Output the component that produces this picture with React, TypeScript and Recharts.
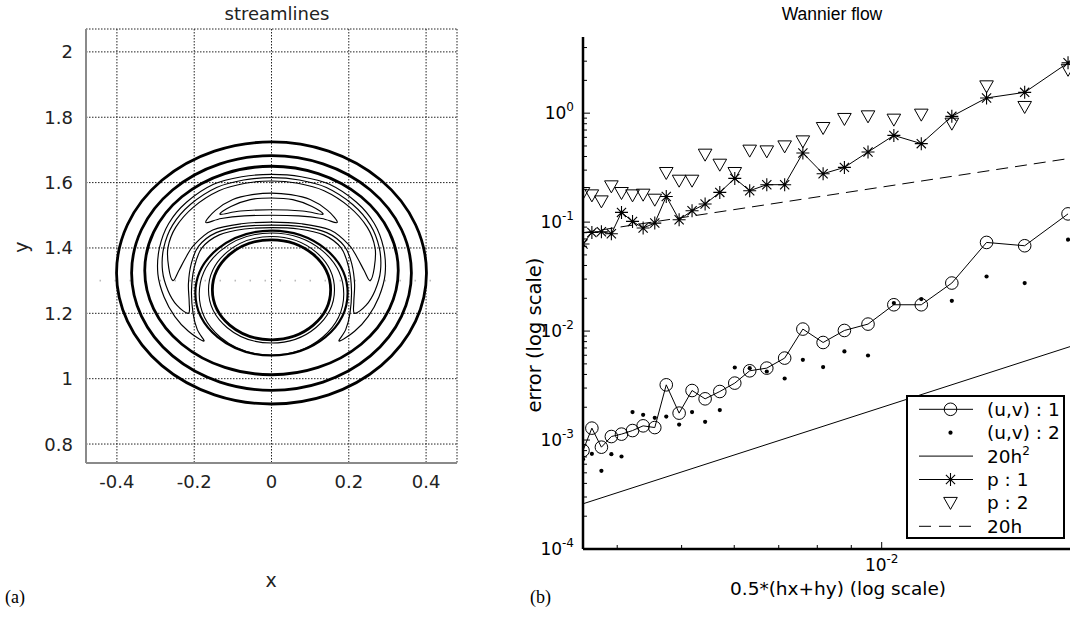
import React from "react";
import { ScatterChart, Scatter, XAxis, YAxis, CartesianGrid, ReferenceLine } from "recharts";

const SANS = "'DejaVu Sans', sans-serif";
const HELV = "'Liberation Sans', Arial, sans-serif";
const SERIF = "'Liberation Serif', 'DejaVu Serif', serif";
const GRAY = "#8a8a8a";

// ---------------- (a) streamlines ----------------
const xTicksA = [-0.4, -0.2, 0, 0.2, 0.4];
const yTicksA = [0.8, 1, 1.2, 1.4, 1.6, 1.8, 2];

// closed streamlines that are (nearly) ellipses, centred on x = 0
const ringCy = [1.3235, 1.3235, 1.331, 1.262, 1.259, 1.272, 1.272];
const ringRx = [0.401, 0.362, 0.328, 0.197, 0.187, 0.163, 0.153];
const ringRy = [0.401, 0.359, 0.319, 0.191, 0.187, 0.163, 0.153];
const ringWidth = [2.8, 2.8, 2.8, 2.2, 1.1, 1.1, 2.8];

// horseshoe shaped eddy contours (x, y)
const horseshoe1 = [
  [-0.175, 1.115], [-0.215, 1.145], [-0.25, 1.19], [-0.278, 1.25], [-0.294, 1.32], [-0.29, 1.4],
  [-0.266, 1.475], [-0.22, 1.54], [-0.15, 1.595], [-0.077, 1.618], [0, 1.625],
  [0.077, 1.618], [0.15, 1.595], [0.22, 1.54], [0.266, 1.475], [0.29, 1.4], [0.294, 1.32],
  [0.278, 1.25], [0.25, 1.19], [0.215, 1.145], [0.175, 1.115],
  [0.192, 1.15], [0.203, 1.2], [0.207, 1.27], [0.2, 1.34], [0.18, 1.4], [0.135, 1.44], [0.07, 1.458], [0, 1.462],
  [-0.07, 1.458], [-0.135, 1.44], [-0.18, 1.4], [-0.2, 1.34], [-0.207, 1.27], [-0.203, 1.2], [-0.192, 1.15],
];
const horseshoe2 = [
  [-0.215, 1.2], [-0.245, 1.225], [-0.268, 1.27], [-0.282, 1.33], [-0.279, 1.4], [-0.256, 1.47],
  [-0.21, 1.533], [-0.142, 1.585], [-0.072, 1.608], [0, 1.615],
  [0.072, 1.608], [0.142, 1.585], [0.21, 1.533], [0.256, 1.47], [0.279, 1.4], [0.282, 1.33],
  [0.268, 1.27], [0.245, 1.225], [0.215, 1.2],
  [0.213, 1.235], [0.215, 1.29], [0.208, 1.35], [0.189, 1.405], [0.143, 1.447], [0.073, 1.466], [0, 1.47],
  [-0.073, 1.466], [-0.143, 1.447], [-0.189, 1.405], [-0.208, 1.35], [-0.215, 1.29], [-0.213, 1.235],
];
const horseshoe3 = [
  [-0.255, 1.3], [-0.266, 1.34], [-0.268, 1.4], [-0.248, 1.463], [-0.202, 1.525], [-0.136, 1.575],
  [-0.068, 1.598], [0, 1.605],
  [0.068, 1.598], [0.136, 1.575], [0.202, 1.525], [0.248, 1.463], [0.268, 1.4], [0.266, 1.34], [0.255, 1.3],
  [0.24, 1.33], [0.222, 1.37], [0.2, 1.41], [0.152, 1.455], [0.078, 1.474], [0, 1.479],
  [-0.078, 1.474], [-0.152, 1.455], [-0.2, 1.41], [-0.222, 1.37], [-0.24, 1.33],
];
const crescentOuter = [
  [-0.17, 1.478], [-0.145, 1.515], [-0.1, 1.548], [-0.05, 1.563], [0, 1.568], [0.05, 1.563],
  [0.1, 1.548], [0.145, 1.515], [0.17, 1.478], [0.13, 1.49], [0.07, 1.498], [0, 1.5], [-0.07, 1.498], [-0.13, 1.49],
];
const crescentInner = [
  [-0.133, 1.503], [-0.105, 1.527], [-0.055, 1.548], [0, 1.553], [0.055, 1.548], [0.105, 1.527],
  [0.133, 1.503], [0.08, 1.513], [0, 1.517], [-0.08, 1.513],
];
const eddyShapes = [horseshoe1, horseshoe2, horseshoe3, crescentOuter, crescentInner];

// ---------------- (b) Wannier flow ----------------
const h = [
  0.003553, 0.003664, 0.003787, 0.00392, 0.00406, 0.004218, 0.004376, 0.004556, 0.004741,
  0.004957, 0.005184, 0.005424, 0.005707, 0.006011, 0.00633, 0.006716, 0.007145, 0.00761,
  0.008163, 0.008788, 0.009537, 0.01043, 0.01147, 0.01275, 0.01438, 0.01641, 0.01907,
];
const uv1 = [
  8.01e-4, 1.286e-3, 8.6e-4, 1.077e-3, 1.133e-3, 1.222e-3, 1.35e-3, 1.302e-3, 3.212e-3,
  1.766e-3, 2.848e-3, 2.389e-3, 2.789e-3, 3.33e-3, 4.32e-3, 4.573e-3, 5.65e-3, 1.043e-2,
  7.857e-3, 1.013e-2, 1.159e-2, 1.744e-2, 1.744e-2, 2.76e-2, 6.51e-2, 6.07e-2, 0.119,
];
const uv2 = [
  6.68e-4, 7.47e-4, 5.22e-4, 7.42e-4, 7.06e-4, 1.804e-3, 1.703e-3, 1.599e-3, 1.643e-3,
  1.388e-3, 1.804e-3, 1.469e-3, 1.882e-3, 4.63e-3, 4.57e-3, 4.256e-3, 3.67e-3, 5.45e-3,
  4.67e-3, 6.5e-3, 5.97e-3, 1.807e-2, 1.967e-2, 1.897e-2, 0.0317, 0.0276, 0.069,
];
const p1 = [
  0.0629, 0.0804, 0.0816, 0.0782, 0.1228, 0.1015, 0.0883, 0.098, 0.172,
  0.1052, 0.1272, 0.1466, 0.1874, 0.252, 0.1942, 0.2206, 0.2206, 0.431,
  0.278, 0.318, 0.44, 0.625, 0.525, 0.935, 1.379, 1.552, 2.9,
];
const p2 = [
  0.185, 0.176, 0.155, 0.213, 0.185, 0.176, 0.1786, 0.1606, 0.2824,
  0.24, 0.24, 0.416, 0.3365, 0.2824, 0.453, 0.446, 0.4956, 0.551,
  0.731, 0.885, 0.935, 0.872, 0.969, 0.801, 1.763, 1.14, 2.5,
];
// reference slopes, value at both ends of the h range
const refH = [0.003553, 0.0192];
const ref20h2 = [2.6e-4, 7.2e-3];
const ref20h = [0.08, 0.385];

const X_DOMAIN: [number, number] = [0.003553, 0.0192];
const Y_DOMAIN: [number, number] = [1e-4, 5];
const yDecades = [1e-4, 1e-3, 1e-2, 1e-1, 1];
const yExpLabels = ["-4", "-3", "-2", "-1", "0"];
const yMinor = yDecades.flatMap((d) => [2, 3, 4, 5, 6, 7, 8, 9].map((m) => m * d)).filter((v) => v < 4.9);
const yTicksB = [...yDecades, ...yMinor].sort((a, b) => a - b);
const xMajor = [0.01];
const xExpLabels = ["-2"];
const xTicksB = [0.004, 0.005, 0.006, 0.007, 0.008, 0.009, 0.01];

const legendNames = ["(u,v) : 1", "(u,v) : 2", "20h", "p : 1", "p : 2", "20h"];

const toPts = (xs: number[], ys: number[]) => xs.map((x, i) => ({ x, y: ys[i] }));
const isDecade = (v: number) => Math.abs(Math.log10(v) - Math.round(Math.log10(v))) < 1e-6;

// ---------- shapes ----------
const Empty = () => <g />;

const smoothClosed = (pts: { x: number; y: number }[]) => {
  const n = pts.length;
  let d = `M${pts[0].x},${pts[0].y}`;
  for (let i = 0; i < n; i++) {
    const a = pts[(i - 1 + n) % n], b = pts[i], c = pts[(i + 1) % n], e = pts[(i + 2) % n];
    d += `C${b.x + (c.x - a.x) / 6},${b.y + (c.y - a.y) / 6} ${c.x - (e.x - b.x) / 6},${c.y - (e.y - b.y) / 6} ${c.x},${c.y}`;
  }
  return d + "Z";
};

const ClosedCurve = (props: any) => (
  <path d={smoothClosed(props.points)} fill="none" stroke="#000" strokeWidth={props.w} />
);

const Ring = (props: any) => {
  const p = props.points;
  return (
    <ellipse
      cx={(p[0].x + p[1].x) / 2}
      cy={p[0].y}
      rx={(p[1].x - p[0].x) / 2}
      ry={Math.abs(p[2].y - p[3].y) / 2}
      fill="none"
      stroke="#000"
      strokeWidth={props.w}
    />
  );
};

const OpenCircle = ({ cx, cy }: any) => <circle cx={cx} cy={cy} r={6.3} fill="none" stroke="#000" strokeWidth={1} />;
const SmallDot = ({ cx, cy }: any) => <circle cx={cx} cy={cy} r={2.1} fill="#000" />;
const Asterisk = ({ cx, cy }: any) => {
  const r = 6.5, d = 4.6;
  return (
    <path
      d={`M${cx - r},${cy}H${cx + r}M${cx},${cy - r}V${cy + r}M${cx - d},${cy - d}L${cx + d},${cy + d}M${cx - d},${cy + d}L${cx + d},${cy - d}`}
      stroke="#000"
      strokeWidth={1.1}
      fill="none"
    />
  );
};
const TriDown = ({ cx, cy }: any) => (
  <path d={`M${cx - 6.8},${cy - 5.5}L${cx + 6.8},${cy - 5.5}L${cx},${cy + 6.5}Z`} fill="none" stroke="#000" strokeWidth={1} />
);

// ---------- ticks ----------
const TickXA = ({ x, y, payload }: any) => (
  <text x={x} y={y + 18} textAnchor="middle" dominantBaseline="central" fontFamily={SANS} fontSize={18} fill="#222">
    {String(payload.value)}
  </text>
);
const TickYA = ({ x, y, payload }: any) => (
  <text x={x - 13} y={y} textAnchor="end" dominantBaseline="central" fontFamily={SANS} fontSize={18} fill="#222">
    {String(payload.value)}
  </text>
);

const TickYLeft = ({ x, y, payload }: any) => {
  const v = payload.value;
  const major = isDecade(v);
  const idx = yDecades.findIndex((d) => Math.abs(d - v) / d < 1e-6);
  return (
    <g>
      <line x1={x} x2={x + (major ? 7 : 4)} y1={y} y2={y} stroke="#000" strokeWidth={1} />
      {major && (
        <text x={x - 9} y={y + 6} textAnchor="end" fontFamily={SANS} fontSize={17} fill="#000">
          <tspan>10</tspan>
          <tspan dy={-8} fontSize={12}>{yExpLabels[idx]}</tspan>
        </text>
      )}
    </g>
  );
};
const TickYRight = ({ x, y, payload }: any) => {
  const major = isDecade(payload.value);
  return <line x1={x} x2={x - (major ? 7 : 4)} y1={y} y2={y} stroke="#000" strokeWidth={1} />;
};
const TickXBottom = ({ x, y, payload }: any) => {
  const v = payload.value;
  const idx = xMajor.findIndex((d) => Math.abs(d - v) / d < 1e-6);
  const major = idx >= 0;
  return (
    <g>
      <line x1={x} x2={x} y1={y} y2={y - (major ? 7 : 4)} stroke="#000" strokeWidth={1} />
      {major && (
        <text x={x} y={y + 22} textAnchor="middle" fontFamily={SANS} fontSize={17} fill="#000">
          <tspan>10</tspan>
          <tspan dy={-8} fontSize={12}>{xExpLabels[idx]}</tspan>
        </text>
      )}
    </g>
  );
};
const TickXTop = ({ x, y, payload }: any) => {
  const major = isDecade(payload.value);
  return <line x1={x} x2={x} y1={y} y2={y + (major ? 7 : 4)} stroke="#000" strokeWidth={1} />;
};

function Streamlines() {
  const frame = { stroke: GRAY, strokeWidth: 2 };
  return (
    <ScatterChart width={480} height={600} margin={{ top: 29, right: 23, bottom: 107, left: 26 }}>
      <CartesianGrid stroke="#222" strokeWidth={1} strokeDasharray="1.5 1.5" />
      <XAxis dataKey="x" type="number" domain={[-0.48, 0.48]} ticks={xTicksA} allowDataOverflow height={30}
        tickSize={0} tickMargin={0} tickLine={false} interval={0} tick={<TickXA />} axisLine={frame} />
      <XAxis xAxisId="top" orientation="top" dataKey="x" type="number" domain={[-0.48, 0.48]} allowDataOverflow
        height={0} tick={false} tickLine={false} axisLine={frame} />
      <YAxis dataKey="y" type="number" domain={[0.742, 2.07]} ticks={yTicksA} allowDataOverflow width={60}
        tickSize={0} tickMargin={0} tickLine={false} interval={0} tick={<TickYA />} axisLine={frame} />
      <YAxis yAxisId="right" orientation="right" dataKey="y" type="number" domain={[0.742, 2.07]} allowDataOverflow
        width={0} tick={false} tickLine={false} axisLine={frame} />
      <ReferenceLine segment={[{ x: -0.445, y: 1.3 }, { x: 0.445, y: 1.3 }]} stroke="#bbb" strokeWidth={1.6}
        strokeDasharray="1.5 13.5" />
      {ringCy.map((cy, i) => (
        <Scatter
          key={`ring${i}`}
          data={[
            { x: -ringRx[i], y: cy },
            { x: ringRx[i], y: cy },
            { x: 0, y: cy - ringRy[i] },
            { x: 0, y: cy + ringRy[i] },
          ]}
          shape={<Empty />}
          line={<Ring w={ringWidth[i]} />}
          isAnimationActive={false}
        />
      ))}
      {eddyShapes.map((s, i) => (
        <Scatter
          key={`eddy${i}`}
          data={s.map(([x, y]) => ({ x, y }))}
          shape={<Empty />}
          line={<ClosedCurve w={1.15} />}
          isAnimationActive={false}
        />
      ))}
      <Scatter xAxisId="top" yAxisId="right" data={[{ x: 0, y: 1.3 }]} shape={<Empty />} isAnimationActive={false} />
    </ScatterChart>
  );
}

function Wannier() {
  const thick = { stroke: "#000", strokeWidth: 2.5 };
  const thin = { stroke: "#000", strokeWidth: 1.2 };
  return (
    <ScatterChart width={572} height={618} margin={{ top: 37, right: 2, bottom: 39, left: 0 }}>
      <XAxis dataKey="x" type="number" scale="log" domain={X_DOMAIN} ticks={xTicksB} allowDataOverflow height={30}
        tickSize={0} tickMargin={0} tickLine={false} interval={0} tick={<TickXBottom />} axisLine={thick} />
      <XAxis xAxisId="top" orientation="top" dataKey="x" type="number" scale="log" domain={X_DOMAIN} ticks={xTicksB}
        allowDataOverflow height={0} tickSize={0} tickMargin={0} tickLine={false} interval={0} tick={<TickXTop />}
        axisLine={thin} />
      <YAxis dataKey="y" type="number" scale="log" domain={Y_DOMAIN} ticks={yTicksB} allowDataOverflow width={83}
        tickSize={0} tickMargin={0} tickLine={false} interval={0} tick={<TickYLeft />} axisLine={thick} />
      <YAxis yAxisId="right" orientation="right" dataKey="y" type="number" scale="log" domain={Y_DOMAIN} ticks={yTicksB}
        allowDataOverflow width={0} tickSize={0} tickMargin={0} tickLine={false} interval={0} tick={<TickYRight />}
        axisLine={thin} />
      <Scatter data={toPts(refH, ref20h2)} shape={<Empty />} line={{ stroke: "#000", strokeWidth: 1 }}
        lineJointType="linear" isAnimationActive={false} />
      <Scatter data={toPts(refH, ref20h)} shape={<Empty />}
        line={{ stroke: "#000", strokeWidth: 1, strokeDasharray: "12 7" }} lineJointType="linear" isAnimationActive={false} />
      <Scatter data={toPts(h, uv1)} shape={<OpenCircle />} line={{ stroke: "#000", strokeWidth: 1 }}
        lineJointType="linear" isAnimationActive={false} />
      <Scatter data={toPts(h, uv2)} shape={<SmallDot />} isAnimationActive={false} />
      <Scatter data={toPts(h, p1)} shape={<Asterisk />} line={{ stroke: "#000", strokeWidth: 1 }}
        lineJointType="linear" isAnimationActive={false} />
      <Scatter data={toPts(h, p2)} shape={<TriDown />} isAnimationActive={false} />
      <Scatter xAxisId="top" yAxisId="right" data={toPts(refH, ref20h)} shape={<Empty />} isAnimationActive={false} />
    </ScatterChart>
  );
}

function Legend() {
  const top = 409.3;
  const step = 23.4;
  return (
    <g>
      <rect x={907} y={396} width={157} height={142} fill="#fff" stroke="#000" strokeWidth={2} />
      {legendNames.map((name, i) => {
        const y = top + i * step;
        const lined = i === 0 || i === 2 || i === 3;
        return (
          <g key={i}>
            {lined && <line x1={919} x2={973} y1={y} y2={y} stroke="#000" strokeWidth={1} />}
            {i === 5 && <line x1={919} x2={973} y1={y} y2={y} stroke="#000" strokeWidth={1} strokeDasharray="12 8" />}
            {i === 0 && <OpenCircle cx={950.5} cy={y} />}
            {i === 1 && <SmallDot cx={950.5} cy={y} />}
            {i === 3 && <Asterisk cx={950.5} cy={y} />}
            {i === 4 && <TriDown cx={950.5} cy={y} />}
            <text x={987} y={y + 6.5} fontFamily={SANS} fontSize={18.5} fill="#000">
              {name}
              {i === 2 && <tspan dy={-8} fontSize={12}>2</tspan>}
            </text>
          </g>
        );
      })}
    </g>
  );
}

export default function App() {
  return (
    <div style={{ position: "absolute", left: 0, top: 0, width: 1072, height: 618, background: "#fff", overflow: "hidden" }}>
      <div style={{ position: "absolute", left: 0, top: 0 }}>
        <Streamlines />
      </div>
      <div style={{ position: "absolute", left: 500, top: 0 }}>
        <Wannier />
      </div>
      <svg width={1072} height={618} style={{ position: "absolute", left: 0, top: 0, pointerEvents: "none" }}>
        <text x={277} y={20} textAnchor="middle" fontFamily={SANS} fontSize={18} fill="#222">streamlines</text>
        <text x={271} y={587} textAnchor="middle" fontFamily={SANS} fontSize={19} fill="#222">x</text>
        <text x={0} y={0} transform="translate(28,247) rotate(-90)" textAnchor="middle" fontFamily={SANS} fontSize={19} fill="#222">y</text>
        <text x={5} y={603} fontFamily={SERIF} fontSize={18} fill="#000">(a)</text>
        <text x={832} y={20} textAnchor="middle" fontFamily={HELV} fontSize={17.5} fill="#000">Wannier flow</text>
        <text x={0} y={0} transform="translate(541,335) rotate(-90)" textAnchor="middle" fontFamily={SANS} fontSize={19.5} fill="#000">error (log scale)</text>
        <text x={838} y={595} textAnchor="middle" fontFamily={SANS} fontSize={18.5} fill="#000">0.5*(hx+hy) (log scale)</text>
        <text x={530} y={603} fontFamily={SERIF} fontSize={18} fill="#000">(b)</text>
        <Legend />
      </svg>
    </div>
  );
}
